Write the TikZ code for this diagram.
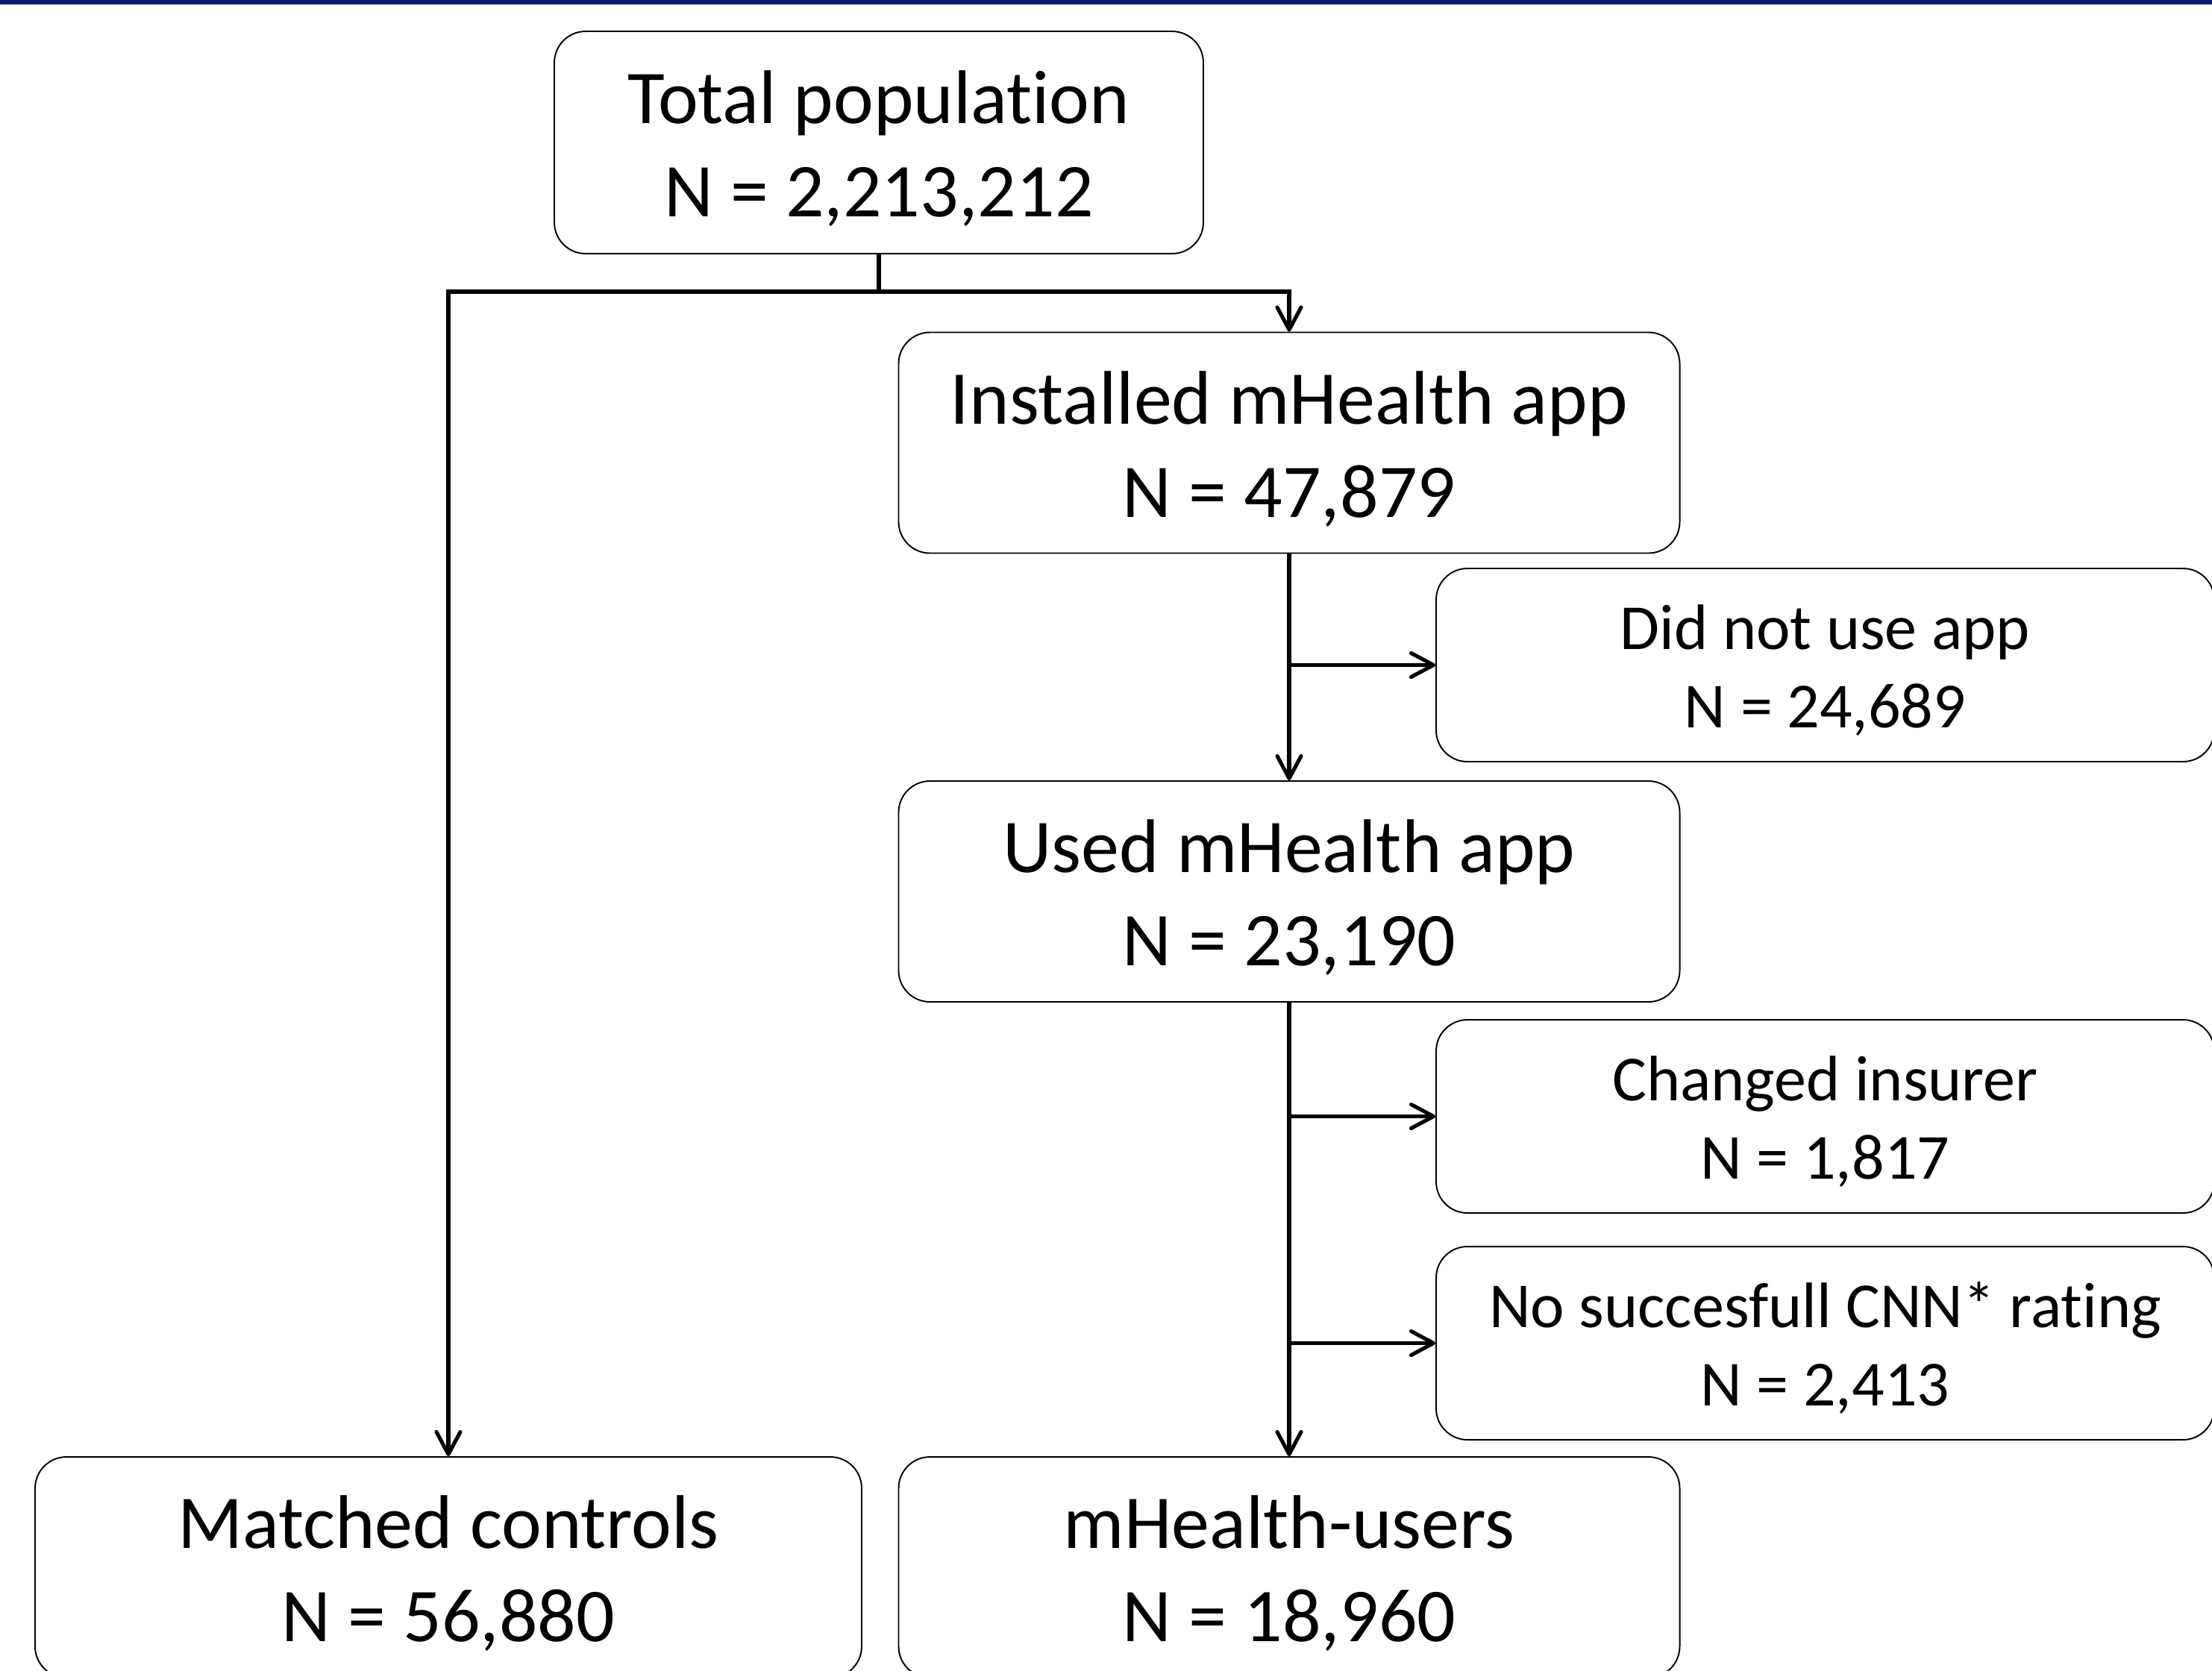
\documentclass[tikz,border=0pt]{standalone}
\usepackage{fontspec}
\setmainfont{Carlito}[Ligatures=NoCommon]
\usepackage{xcolor}
\usetikzlibrary{arrows.meta}
\definecolor{barblue}{HTML}{0B1A6C}
\newcommand{\toppad}{\rule{0pt}{0.86em}}

\begin{document}
\begin{tikzpicture}[
	box/.style={draw, rounded corners=0.42cm, line width=0.55pt, align=center, inner sep=0pt},
	bigbox/.style={box, minimum width=10.47cm, minimum height=2.96cm, font=\fontsize{29}{35.5}\selectfont},
	sidebox/.style={box, minimum width=10.43cm, minimum height=2.59cm, font=\fontsize{24.5}{29.8}\selectfont},
	link/.style={line width=1.45pt, -{Straight Barb[length=0.3cm,width=0.32cm,line width=1.45pt,round]}}
	]
	\useasboundingbox (0,0) rectangle (29.65,-22.39);
	\fill[barblue] (0,0) rectangle (29.65,-0.06);
	\node	(total) at (11.78,-1.91) [bigbox, minimum width=8.70cm, minimum height=2.98cm] {\toppad Total population\\N = 2,213,212};
	\node	(installed) at (17.28,-5.935) [bigbox] {\toppad Installed mHealth app\\N = 47,879};
	\node	(notused) at (24.465,-8.915) [sidebox] {\toppad Did not use app\\N = 24,689};
	\node	(used) at (17.28,-11.95) [bigbox] {\toppad Used mHealth app\\N = 23,190};
	\node	(changed) at (24.465,-14.965) [sidebox] {\toppad Changed insurer\\N = 1,817};
	\node	(norating) at (24.465,-18.005) [sidebox] {\toppad No succesfull CNN* rating\\N = 2,413};
	\node	(controls) at (6.01,-21.01) [bigbox, minimum width=11.08cm] {\toppad Matched controls\\N = 56,880};
	\node	(users) at (17.28,-21.01) [bigbox] {\toppad mHealth-users\\N = 18,960};
	\coordinate	(split) at (11.78,-3.91);
	\draw[line width=1.45pt] (total) -- (split);
	\draw[link] (split) -| (controls.north);
	\draw[link] (split) -| (installed.north);
	\draw 
	(installed) edge[link] (used)
	(installed.south |- notused.west) edge[link] (notused.west)
	(used) edge[link] (users)
	(used.south |- changed.west) edge[link] (changed.west)
	(used.south |- norating.west) edge[link] (norating.west)
	;
\end{tikzpicture}
\end{document}
